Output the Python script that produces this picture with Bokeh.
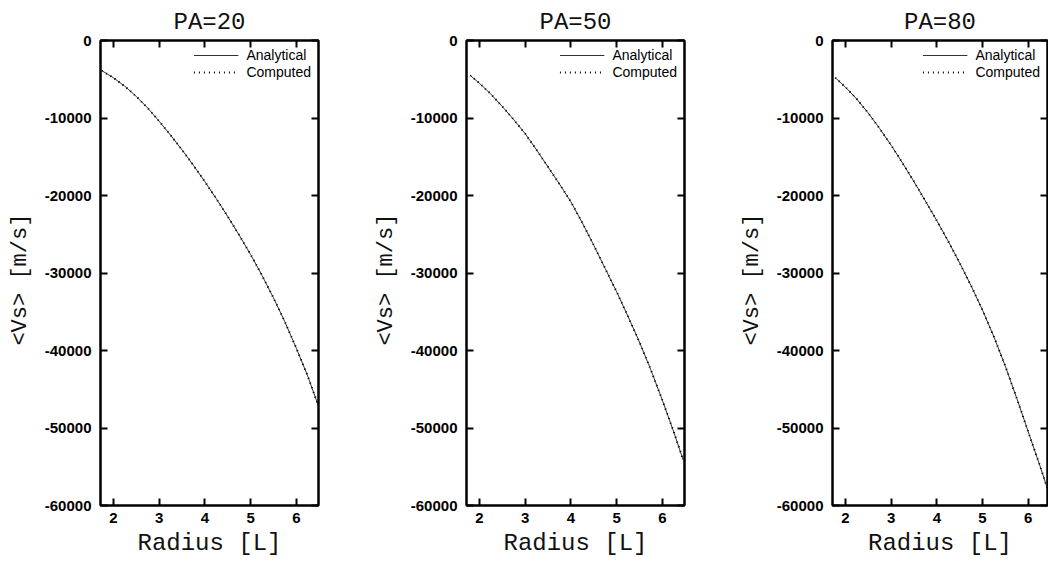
from bokeh.plotting import figure
from bokeh.models import LinearAxis, FixedTicker, Legend, LegendItem, Range1d, Title
from bokeh.layouts import row
from bokeh.embed import file_html
from bokeh.resources import INLINE

titles = ["PA=20", "PA=50", "PA=80"]

x_ticks = [2, 3, 4, 5, 6]
x_tick_labels = ["2", "3", "4", "5", "6"]
y_ticks = [0, -10000, -20000, -30000, -40000, -50000, -60000]
y_tick_labels = ["0", "-10000", "-20000", "-30000", "-40000", "-50000", "-60000"]

# PA=20
r_pa20 = [1.75, 2.00, 2.25, 2.50, 2.75, 3.00, 3.25, 3.50, 3.75, 4.00,
          4.25, 4.50, 4.75, 5.00, 5.25, 5.50, 5.75, 6.00, 6.25, 6.48]
analytic_pa20 = [-3900, -4800, -5900, -7200, -8700, -10400, -12200, -14100, -16100, -18200,
                 -20400, -22700, -25100, -27600, -30300, -33200, -36300, -39700, -43300, -47100]
computed_pa20 = [-3900, -4800, -5900, -7200, -8700, -10400, -12200, -14100, -16100, -18200,
                 -20400, -22700, -25100, -27600, -30300, -33200, -36300, -39700, -43300, -47100]

# PA=50
r_pa50 = [1.80, 2.00, 2.25, 2.50, 2.75, 3.00, 3.25, 3.50, 3.75, 4.00,
          4.25, 4.50, 4.75, 5.00, 5.25, 5.50, 5.75, 6.00, 6.25, 6.46]
analytic_pa50 = [-4500, -5500, -6900, -8500, -10200, -12000, -14100, -16300, -18500, -20800,
                 -23500, -26400, -29400, -32400, -35600, -38900, -42500, -46400, -50500, -54200]
computed_pa50 = [-4500, -5500, -6900, -8500, -10200, -12000, -14100, -16300, -18500, -20800,
                 -23500, -26400, -29400, -32400, -35600, -38900, -42500, -46400, -50500, -54200]

# PA=80
r_pa80 = [1.78, 2.00, 2.25, 2.50, 2.75, 3.00, 3.25, 3.50, 3.75, 4.00,
          4.25, 4.50, 4.75, 5.00, 5.25, 5.50, 5.75, 6.00, 6.25, 6.44]
analytic_pa80 = [-4800, -6000, -7550, -9350, -11350, -13500, -15800, -18200, -20700, -23250,
                 -25900, -28700, -31650, -34800, -38250, -42050, -46200, -50500, -54800, -58200]
computed_pa80 = [-4800, -6000, -7550, -9350, -11350, -13500, -15800, -18200, -20700, -23250,
                 -25900, -28700, -31650, -34800, -38250, -42050, -46200, -50500, -54800, -58200]

TICK_FONT = "Liberation Sans"
MONO = "Liberation Mono"


def style_axis(ax, ticks, labels=None):
    ax.ticker = FixedTicker(ticks=ticks)
    ax.axis_line_color = "black"
    ax.axis_line_width = 2
    ax.major_tick_line_color = "black"
    ax.major_tick_line_width = 2
    ax.major_tick_in = 7
    ax.major_tick_out = 0
    ax.minor_tick_line_color = None
    ax.major_label_text_font = TICK_FONT
    ax.major_label_text_font_style = "bold"
    ax.major_label_text_font_size = "15px"
    ax.major_label_text_color = "black"
    if labels is None:
        ax.major_label_overrides = {t: "" for t in ticks}
        ax.major_label_standoff = 0
    else:
        ax.major_label_overrides = dict(zip(ticks, labels))


def make_panel(title, r, analytic, computed, width, x_end, right_border):
    t = Title(text=title, align="center", text_font=MONO, text_font_size="24px",
              text_font_style="normal", text_color="#111111")
    p = figure(width=width, height=562, title=t,
               x_range=Range1d(1.72, x_end), y_range=Range1d(-60000, 0),
               output_backend="svg", toolbar_location=None,
               min_border_left=100, min_border_right=right_border,
               min_border_top=40, min_border_bottom=57)
    p.xgrid.visible = False
    p.ygrid.visible = False
    p.outline_line_color = "black"
    p.outline_line_width = 2
    p.background_fill_color = "white"
    p.border_fill_color = "white"

    xa = p.xaxis[0]
    style_axis(xa, x_ticks, x_tick_labels)
    xa.major_label_standoff = 7
    xa.axis_label = "Radius [L]"
    xa.axis_label_text_font = MONO
    xa.axis_label_text_font_size = "24px"
    xa.axis_label_text_font_style = "normal"
    xa.axis_label_text_color = "#111111"
    xa.axis_label_standoff = 4

    ya = p.yaxis[0]
    style_axis(ya, y_ticks, y_tick_labels)
    ya.major_label_standoff = 9
    ya.axis_label = "<Vs>  [m/s]"
    ya.axis_label_text_font = MONO
    ya.axis_label_text_font_size = "22px"
    ya.axis_label_text_font_style = "normal"
    ya.axis_label_text_color = "#111111"
    ya.axis_label_standoff = 9

    top = LinearAxis()
    style_axis(top, x_ticks)
    p.add_layout(top, "above")
    right = LinearAxis()
    style_axis(right, y_ticks)
    p.add_layout(right, "right")

    ra = p.line(r, analytic, line_color="#333333", line_width=1)
    rc = p.line(r, computed, line_color="black", line_width=2, line_dash="1 4")

    legend = Legend(items=[LegendItem(label="Analytical", renderers=[ra]),
                           LegendItem(label="Computed", renderers=[rc])],
                    location="top_right")
    legend.border_line_color = None
    legend.background_fill_alpha = 0
    legend.label_text_font = TICK_FONT
    legend.label_text_font_size = "14px"
    legend.label_text_color = "black"
    legend.label_height = 14
    legend.glyph_height = 14
    legend.glyph_width = 45
    legend.spacing = 1
    legend.padding = 3
    legend.margin = 7
    legend.label_standoff = 8
    p.add_layout(legend)
    return p


p1 = make_panel(titles[0], r_pa20, analytic_pa20, computed_pa20, 366, 6.485, 48)
p2 = make_panel(titles[1], r_pa50, analytic_pa50, computed_pa50, 366, 6.485, 48)
p3 = make_panel(titles[2], r_pa80, analytic_pa80, computed_pa80, 316, 6.42, 1)

layout = row(p1, p2, p3, spacing=0)

open("out.html", "w").write(file_html(layout, INLINE))
